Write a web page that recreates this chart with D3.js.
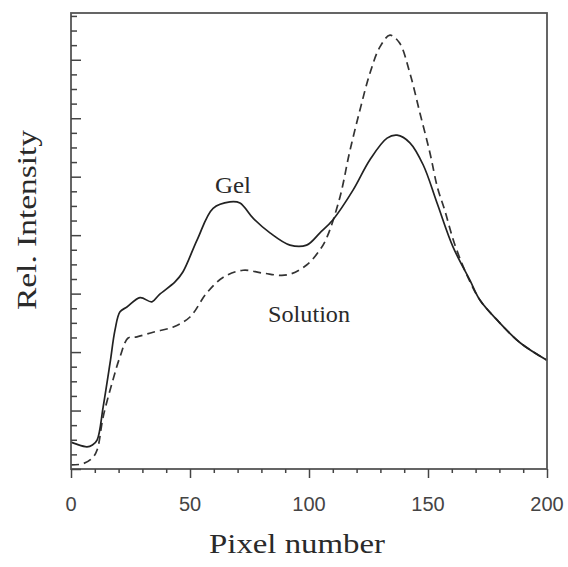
<!DOCTYPE html>
<html>
<head>
<meta charset="utf-8">
<script src="https://cdn.jsdelivr.net/npm/d3@7"></script>
<style>
  body { margin: 0; background: #fff; }
  text { font-family: "Liberation Serif", "DejaVu Serif", serif; fill: #2a2a2a; }
</style>
</head>
<body>
<div id="wrapper"></div>
<script>
// 1. Data

const gelPixel = [0, 2, 6.7, 9, 11, 13.5, 16.4, 18.5, 20.6, 23.5, 29, 34, 37, 43.7, 47, 53, 59.7, 66.8, 71, 76.5, 83.6, 92, 99, 104.6, 110, 118.5, 125.6, 132.8, 137, 142.4, 148, 153.8, 160.5, 167.6, 171.8, 179, 188.7, 200]
const gelIntensity = [0.46, 0.43, 0.38, 0.41, 0.50, 1.06, 1.81, 2.38, 2.69, 2.77, 2.93, 2.86, 2.98, 3.20, 3.37, 3.92, 4.46, 4.57, 4.55, 4.29, 4.04, 3.83, 3.83, 4.04, 4.26, 4.77, 5.29, 5.66, 5.71, 5.58, 5.20, 4.55, 3.80, 3.23, 2.89, 2.55, 2.16, 1.86]

const solPixel = [0, 5, 9, 11, 13.5, 17.6, 20.6, 24, 27.7, 34.5, 43, 50, 57, 64, 72.3, 80.7, 90.8, 99, 104.6, 107.6, 113, 117, 121.4, 125.6, 129.8, 134, 138, 142.4, 146.6, 150.8, 154, 157, 161, 166, 171.8, 179, 188.7, 200]
const solIntensity = [0.07, 0.09, 0.19, 0.33, 0.89, 1.52, 1.92, 2.24, 2.26, 2.34, 2.43, 2.60, 3.01, 3.28, 3.40, 3.35, 3.32, 3.49, 3.75, 3.97, 4.65, 5.41, 6.14, 6.77, 7.22, 7.42, 7.29, 6.77, 6.09, 5.41, 4.81, 4.43, 3.87, 3.35, 2.89, 2.55, 2.16, 1.86]

const xTicks = [0, 50, 100, 150, 200]
const seriesLabels = ["Gel", "Solution"]

const gel = gelPixel.map((p, i) => ({ x: p, y: gelIntensity[i] }))
const sol = solPixel.map((p, i) => ({ x: p, y: solIntensity[i] }))

// 2. Dimensions

const dimensions = {
  width: 568,
  height: 567,
  margin: { top: 13, right: 21, bottom: 98, left: 71 },
}
dimensions.boundedWidth = dimensions.width - dimensions.margin.left - dimensions.margin.right
dimensions.boundedHeight = dimensions.height - dimensions.margin.top - dimensions.margin.bottom

// 3. Canvas

const wrapper = d3.select("#wrapper")
  .append("svg")
    .attr("width", dimensions.width)
    .attr("height", dimensions.height)

const bounds = wrapper.append("g")
    .attr("transform", `translate(${dimensions.margin.left},${dimensions.margin.top})`)

// 4. Scales

const xScale = d3.scaleLinear()
  .domain([0, 200])
  .range([0, dimensions.boundedWidth])

const yScale = d3.scaleLinear()
  .domain([0, 7.8])
  .range([dimensions.boundedHeight, 0])

// 5. Data

const lineGenerator = d3.line()
  .x(d => xScale(d.x))
  .y(d => yScale(d.y))
  .curve(d3.curveCatmullRom.alpha(0.5))

bounds.append("path")
    .attr("d", lineGenerator(sol))
    .attr("fill", "none")
    .attr("stroke", "#333")
    .attr("stroke-width", 1.7)
    .attr("stroke-dasharray", "8,5")

bounds.append("path")
    .attr("d", lineGenerator(gel))
    .attr("fill", "none")
    .attr("stroke", "#222")
    .attr("stroke-width", 1.7)

// 6. Peripherals

// frame
bounds.append("rect")
    .attr("width", dimensions.boundedWidth)
    .attr("height", dimensions.boundedHeight)
    .attr("fill", "none")
    .attr("stroke", "#555")
    .attr("stroke-width", 1.8)

// x ticks (outward), minor every 10
const xAxis = d3.axisBottom(xScale)
  .tickValues(d3.range(0, 201, 10))
  .tickSize(4)
  .tickFormat("")
const xAxisGroup = bounds.append("g")
    .attr("transform", `translate(0,${dimensions.boundedHeight})`)
    .call(xAxis)
xAxisGroup.select(".domain").remove()
xAxisGroup.selectAll(".tick line")
    .attr("stroke", "#444")
    .attr("stroke-width", 1.5)
    .attr("y2", d => d % 50 === 0 ? 9 : 4)

bounds.selectAll(".x-label")
  .data(xTicks)
  .enter().append("text")
    .attr("class", "x-label")
    .attr("x", d => xScale(d))
    .attr("y", dimensions.boundedHeight + 42)
    .attr("text-anchor", "middle")
    .style("font-family", "'Liberation Sans', Arial, sans-serif")
    .style("font-size", "20px")
    .style("fill", "#444")
    .text(d => d)

// y ticks (inward), major every 1, minor every 0.25
const yAxis = d3.axisRight(yScale)
  .tickValues(d3.range(0, 7.8, 0.25))
  .tickSize(6)
  .tickFormat("")
const yAxisGroup = bounds.append("g").call(yAxis)
yAxisGroup.select(".domain").remove()
yAxisGroup.selectAll(".tick line")
    .attr("stroke", "#444")
    .attr("stroke-width", 1.5)
    .attr("x2", d => d % 1 === 0 ? 10 : 6)

// series labels
bounds.append("text")
    .attr("x", xScale(60.5))
    .attr("y", yScale(4.72))
    .attr("textLength", 36)
    .attr("lengthAdjust", "spacingAndGlyphs")
    .style("font-size", "23px")
    .text(seriesLabels[0])

bounds.append("text")
    .attr("x", xScale(82.8))
    .attr("y", yScale(2.52))
    .attr("textLength", 82)
    .attr("lengthAdjust", "spacingAndGlyphs")
    .style("font-size", "23px")
    .text(seriesLabels[1])

// axis titles
wrapper.append("text")
    .attr("x", 209)
    .attr("y", 553)
    .attr("textLength", 176)
    .attr("lengthAdjust", "spacingAndGlyphs")
    .style("font-size", "28px")
    .text("Pixel number")

wrapper.append("text")
    .attr("transform", `translate(36,310) rotate(-90)`)
    .attr("textLength", 180)
    .attr("lengthAdjust", "spacingAndGlyphs")
    .style("font-size", "28px")
    .text("Rel. Intensity")
</script>
</body>
</html>
